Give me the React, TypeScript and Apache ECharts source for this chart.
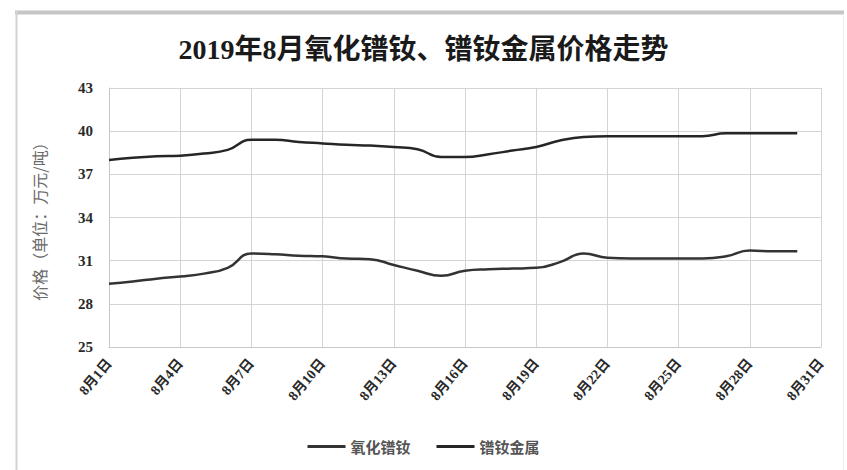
import React, { useEffect, useRef } from "react";
import * as echarts from "echarts";

// 2019年8月 daily prices (万元/吨)
const days: string[] = Array.from({ length: 31 }, (_, i) => `8月${i + 1}日`);

const oxidePrices: number[] = [
  29.4, 29.55, 29.75, 29.9, 30.1, 30.5, 31.5, 31.45, 31.35, 31.3,
  31.15, 31.1, 30.7, 30.3, 29.95, 30.3, 30.4, 30.45, 30.5, 30.9,
  31.5, 31.2, 31.15, 31.15, 31.15, 31.15, 31.3, 31.7, 31.65, 31.65,
];

const metalPrices: number[] = [
  38.0, 38.15, 38.25, 38.3, 38.45, 38.7, 39.4, 39.4, 39.25, 39.15,
  39.05, 39.0, 38.9, 38.75, 38.2, 38.2, 38.4, 38.65, 38.9, 39.35,
  39.6, 39.65, 39.65, 39.65, 39.65, 39.65, 39.85, 39.85, 39.85, 39.85,
];

const seriesNames: string[] = ["氧化镨钕", "镨钕金属"];
const titleText = "2019年8月氧化镨钕、镨钕金属价格走势";
const yAxisName = "价格（单位：万元/吨）";

const serifBold = "'Liberation Serif', 'Noto Sans CJK SC', serif";
const cjk = "'Noto Sans CJK SC', 'Liberation Serif', sans-serif";

export default function App() {
  const ref = useRef<HTMLDivElement>(null);

  useEffect(() => {
    if (!ref.current) return;
    const chart = echarts.init(ref.current, undefined, { renderer: "svg" });
    chart.setOption({
      animation: false,
      backgroundColor: "#ffffff",
      graphic: [
        {
          type: "line",
          shape: { x1: 15, y1: 12.5, x2: 844, y2: 12.5 },
          style: { stroke: "#c6c6c6", lineWidth: 4 },
        },
        {
          type: "line",
          shape: { x1: 16.5, y1: 11, x2: 16.5, y2: 470 },
          style: { stroke: "#d2d2d2", lineWidth: 2 },
        },
        {
          type: "line",
          shape: { x1: 843.5, y1: 14, x2: 843.5, y2: 470 },
          style: { stroke: "#eeeeee", lineWidth: 1 },
        },
      ],
      title: {
        text: titleText,
        left: "center",
        top: 30,
        textStyle: {
          fontFamily: serifBold,
          fontWeight: "bold",
          fontSize: 28,
          color: "#1a1a1a",
        },
      },
      legend: {
        data: seriesNames,
        left: "center",
        top: 434,
        icon: "rect",
        itemWidth: 38,
        itemHeight: 3,
        itemGap: 26,
        textStyle: {
          fontFamily: cjk,
          fontSize: 15,
          fontWeight: "bold",
          color: "#555555",
        },
      },
      grid: { left: 109, right: 26, top: 88, bottom: 123 },
      xAxis: {
        type: "category",
        data: days,
        boundaryGap: false,
        axisLine: { lineStyle: { color: "#c8c8c8" } },
        axisTick: { show: false },
        axisLabel: {
          interval: 2,
          rotate: 50,
          margin: 14,
          fontFamily: serifBold,
          fontWeight: "bold",
          fontSize: 14,
          color: "#2a2a2a",
        },
        splitLine: {
          show: true,
          interval: 2,
          lineStyle: { color: "#d4d4d4", width: 1 },
        },
      },
      yAxis: {
        type: "value",
        min: 25,
        max: 43,
        interval: 3,
        name: yAxisName,
        nameLocation: "middle",
        nameGap: 62,
        nameRotate: 90,
        nameTextStyle: { fontFamily: cjk, fontSize: 16, color: "#6a6a6a" },
        axisLine: { show: true, lineStyle: { color: "#c8c8c8" } },
        axisTick: { show: false },
        axisLabel: {
          margin: 16,
          fontFamily: serifBold,
          fontWeight: "bold",
          fontSize: 15,
          color: "#2a2a2a",
        },
        splitLine: { show: true, lineStyle: { color: "#d4d4d4", width: 1 } },
      },
      series: [
        {
          name: seriesNames[0],
          type: "line",
          data: oxidePrices,
          smooth: true,
          symbol: "none",
          lineStyle: { color: "#333333", width: 2.5 },
          itemStyle: { color: "#333333" },
        },
        {
          name: seriesNames[1],
          type: "line",
          data: metalPrices,
          smooth: true,
          symbol: "none",
          lineStyle: { color: "#262626", width: 2.5 },
          itemStyle: { color: "#262626" },
        },
      ],
    });
    return () => chart.dispose();
  }, []);

  return (
    <div
      ref={ref}
      style={{ position: "absolute", left: 0, top: 0, width: 847, height: 470 }}
    />
  );
}
